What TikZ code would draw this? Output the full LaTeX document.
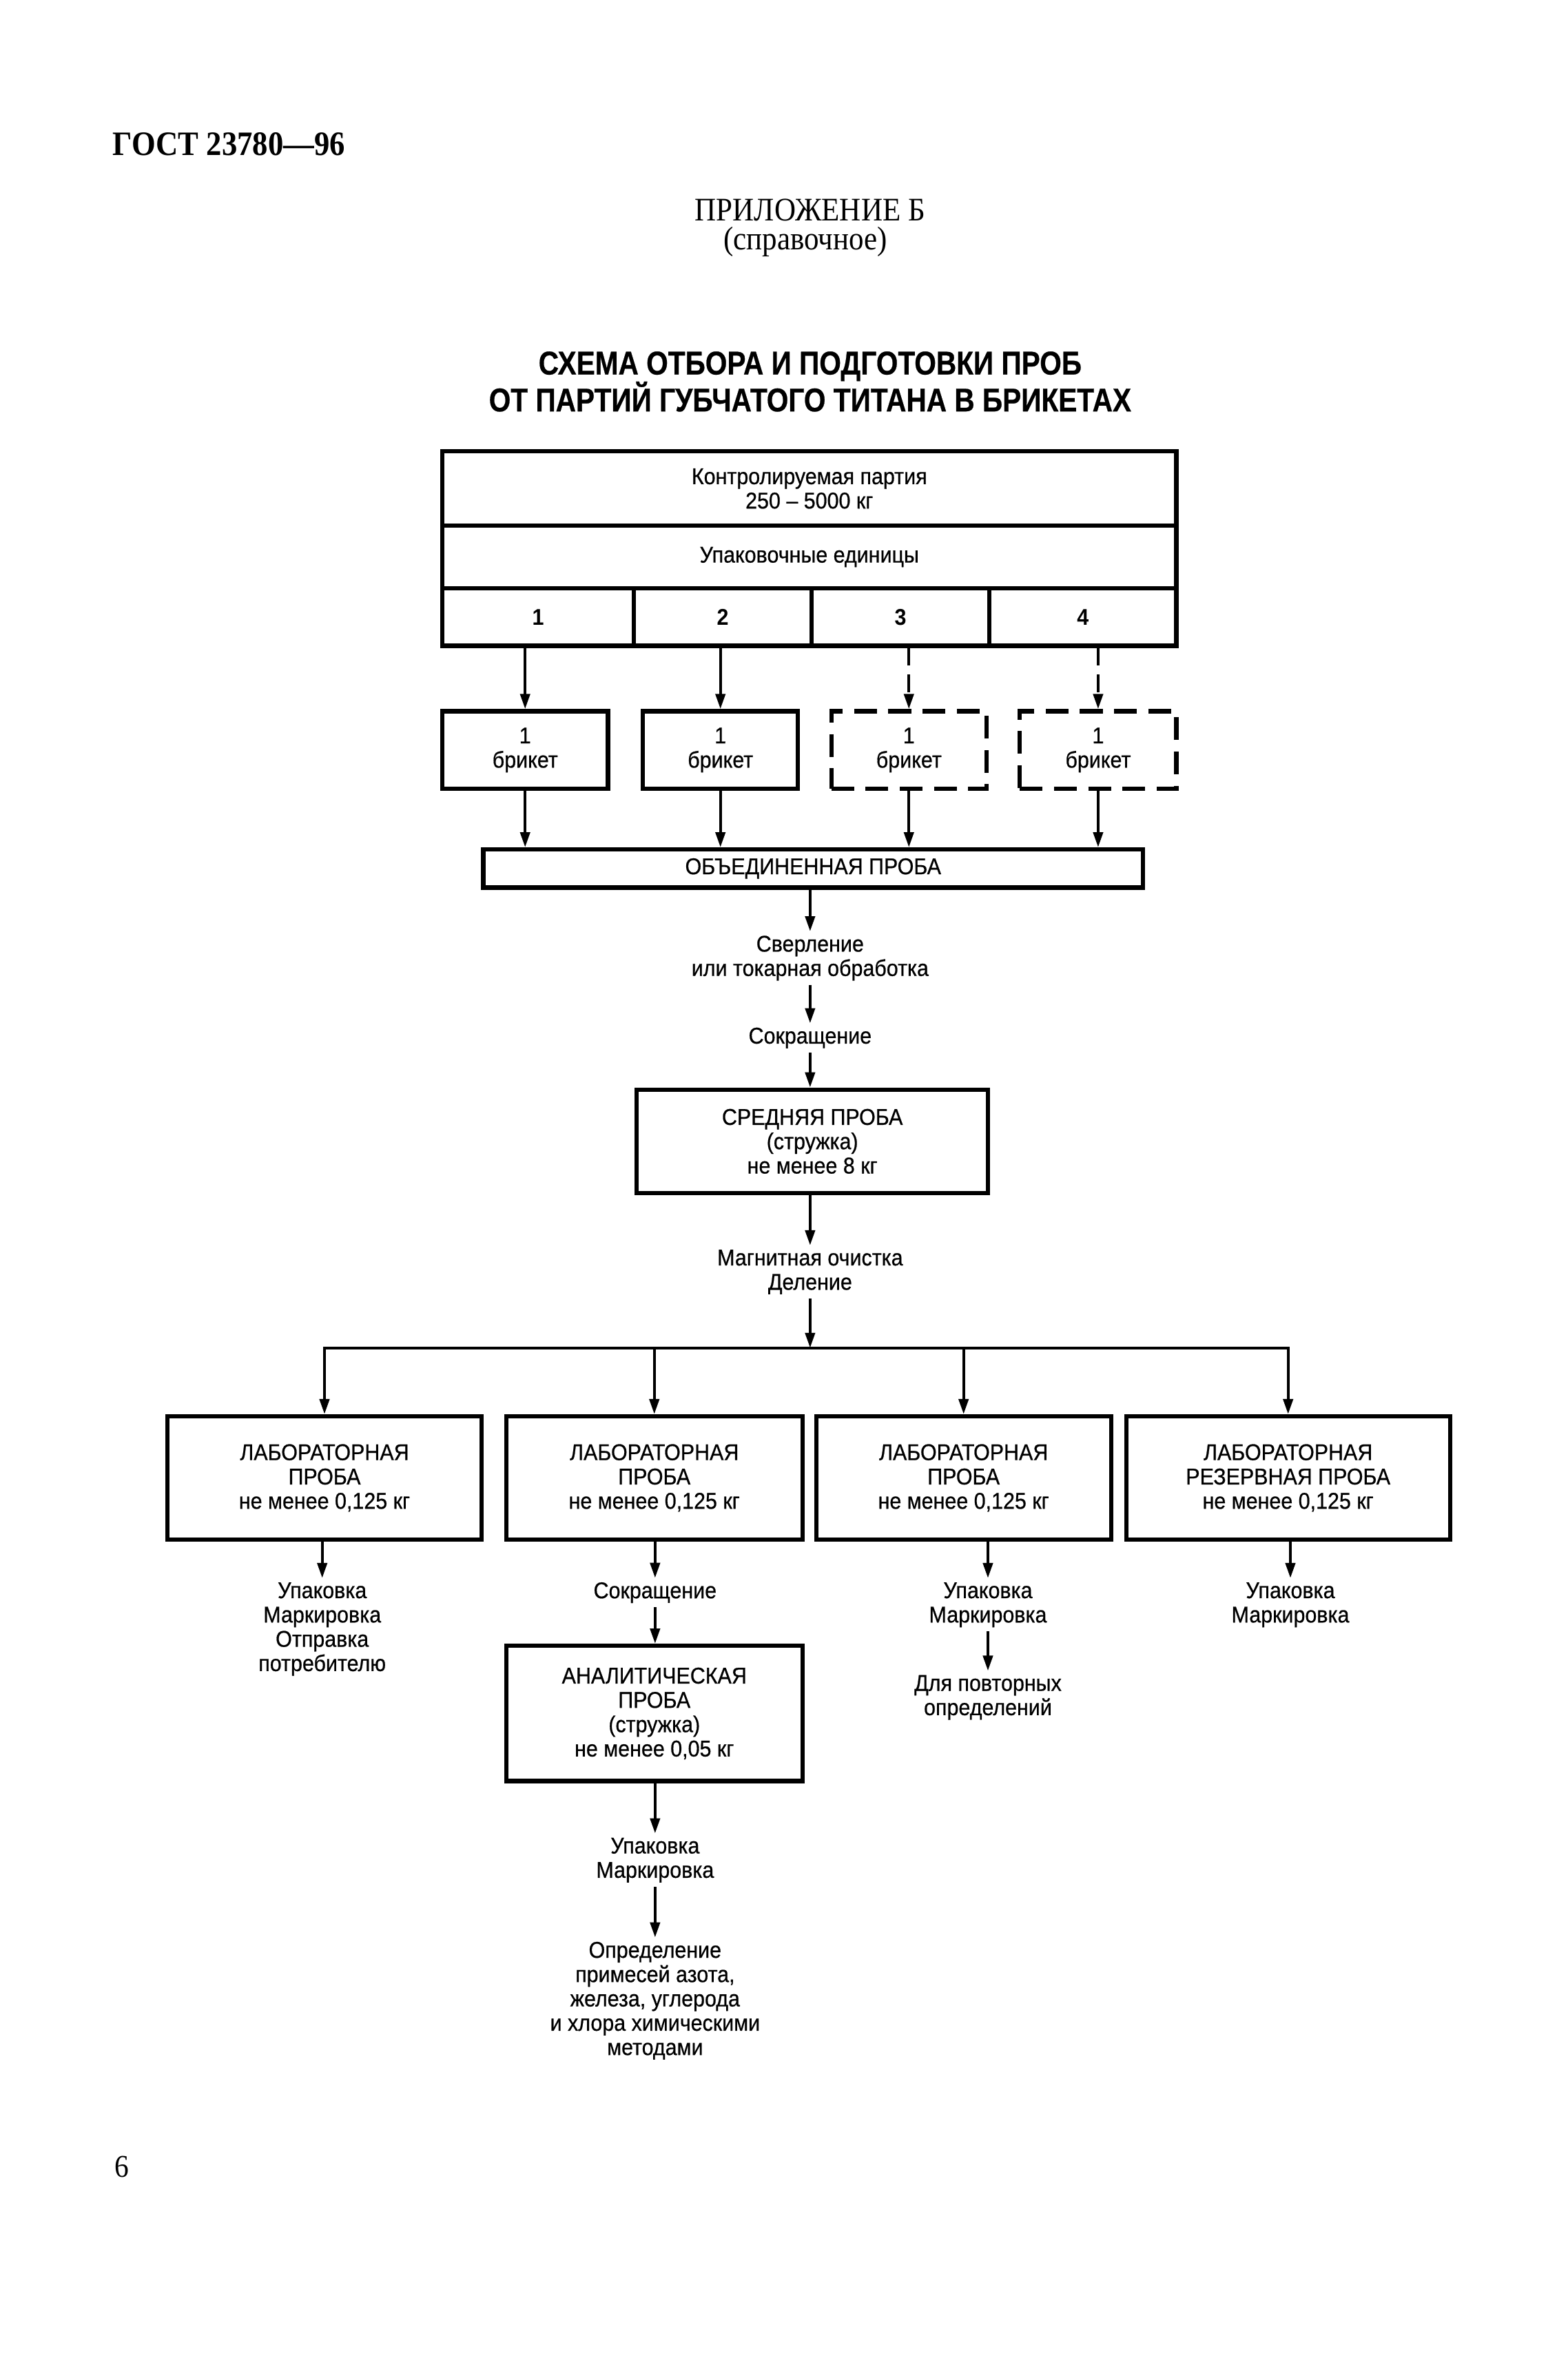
\documentclass[tikz,border=0pt]{standalone}
\usepackage{fontspec}
\setmainfont{Liberation Serif}
\newfontfamily\nar[FakeStretch=0.92,FakeBold=0.6]{Liberation Sans}
\newfontfamily\narb[FakeStretch=0.92]{Liberation Sans Bold}
\newfontfamily\ttlfont[FakeStretch=0.85,FakeBold=0.5]{Liberation Sans Bold}
\newfontfamily\sern[FakeStretch=0.9]{Liberation Serif}
\usetikzlibrary{arrows.meta}
\begin{document}
\begin{tikzpicture}[x=0.6pt,y=-0.6pt,
  bx/.style={draw, line width=1.7pt, inner sep=0pt, align=center, font=\nar\fontsize{9}{9.6}\selectfont},
  dbx/.style={bx, dash pattern=on 9pt off 4.5pt},
  wh/.style 2 args={minimum width=#1*0.6pt, minimum height=#2*0.6pt},
  lbl/.style={inner sep=1.5pt, align=center, font=\nar\fontsize{9}{9.6}\selectfont},
  arr/.style={line width=1.15pt, -{Triangle[length=6pt,width=3.8pt]}},
  darr/.style={arr, dash pattern=on 7pt off 3.5pt},
  busline/.style={line width=1.15pt, line cap=rect},
  ser/.style={inner sep=0pt, font=\sern\fontsize{13}{13}\selectfont},
  ttl/.style={inner sep=0pt, font=\ttlfont\fontsize{13}{13}\selectfont},
  num/.style={font=\narb\fontsize{9}{9.6}\selectfont}
]
\useasboundingbox (0,0) rectangle (1024,1566.1);

% header
\node[anchor=west, inner sep=0pt, font=\sern\bfseries\fontsize{13.5}{13.5}\selectfont] (gost) at (74,95) {ГОСТ 23780—96};
\node[ser] (app) at (533,138) {ПРИЛОЖЕНИЕ Б};
\node[ser] (ref) at (530,159) {(справочное)};
\node[ttl] (t1) at (533,241) {СХЕМА ОТБОРА И ПОДГОТОВКИ ПРОБ};
\node[ttl] (t2) at (533,261) {ОТ ПАРТИЙ ГУБЧАТОГО ТИТАНА В БРИКЕТАХ};

% top block
\node[bx, wh={483}{49}] (lot) at (532.5,321.5) {Контролируемая партия\\250 – 5000 кг};
\node[bx, wh={483}{41}] (units) at (532.5,366.5) {Упаковочные единицы};
\node[bx, num, wh={126}{38}] (c1) at (354,406) {1};
\node[bx, num, wh={117}{38}] (c2) at (475.5,406) {2};
\node[bx, num, wh={117}{38}] (c3) at (592.5,406) {3};
\node[bx, num, wh={123}{38}] (c4) at (712.5,406) {4};

% bricks
\node[bx, wh={109}{51}] (b1) at (345.5,493.5) {1\\брикет};
\node[bx, wh={102}{51}] (b2) at (474,493.5) {1\\брикет};
\node[dbx, wh={102}{51}] (b3) at (598,493.5) {1\\брикет};
\node[dbx, wh={103}{51}] (b4) at (722.5,493.5) {1\\брикет};

\node[bx, wh={434}{25}] (comb) at (535,571.5) {ОБЪЕДИНЕННАЯ ПРОБА};

% central column
\node[lbl] (drill) at (533,630.5) {Сверление\\или токарная обработка};
\node[lbl] (red1) at (533,683) {Сокращение};
\node[bx, wh={231}{68}] (avg) at (534.5,751) {СРЕДНЯЯ ПРОБА\\(стружка)\\не менее 8 кг};
\node[lbl] (mag) at (533,837) {Магнитная очистка\\Деление};
\coordinate (bus) at (533,887);

% laboratory samples
\node[bx, wh={207}{81}] (lA) at (213.5,972.5) {ЛАБОРАТОРНАЯ\\ПРОБА\\не менее 0,125 кг};
\node[bx, wh={195}{81}] (lB) at (430.5,972.5) {ЛАБОРАТОРНАЯ\\ПРОБА\\не менее 0,125 кг};
\node[bx, wh={194}{81}] (lC) at (634,972.5) {ЛАБОРАТОРНАЯ\\ПРОБА\\не менее 0,125 кг};
\node[bx, wh={213}{81}] (lD) at (847.5,972.5) {ЛАБОРАТОРНАЯ\\РЕЗЕРВНАЯ ПРОБА\\не менее 0,125 кг};

% below
\node[lbl] (sA) at (212,1072) {Упаковка\\Маркировка\\Отправка\\потребителю};
\node[lbl] (sB) at (431,1048) {Сокращение};
\node[bx, wh={195}{89}] (an) at (430.5,1127.5) {АНАЛИТИЧЕСКАЯ\\ПРОБА\\(стружка)\\не менее 0,05 кг};
\node[lbl] (pB) at (431,1224) {Упаковка\\Маркировка};
\node[lbl] (dB) at (431,1316.5) {Определение\\примесей азота,\\железа, углерода\\и хлора химическими\\методами};
\node[lbl] (pC) at (650,1056) {Упаковка\\Маркировка};
\node[lbl] (rC) at (650,1117) {Для повторных\\определений};
\node[lbl] (pD) at (849,1056) {Упаковка\\Маркировка};

\node[inner sep=0pt, font=\sern\fontsize{12.5}{12.5}\selectfont] (pg) at (80,1426) {6};

% connectors
\draw[arr] (c1.south -| b1.north) -- (b1.north);
\draw[arr] (c2.south -| b2.north) -- (b2.north);
\draw[darr] (c3.south -| b3.north) -- (b3.north);
\draw[darr] (c4.south -| b4.north) -- (b4.north);
\foreach \b in {b1,b2,b3,b4}{
  \draw[arr] (\b.south) -- (\b.south |- comb.north);
}
\draw[arr] (drill.north |- comb.south) -- (drill.north);
\draw[arr] (drill.south) -- (red1.north);
\draw[arr] (red1.south) -- (avg.north -| red1.south);
\draw[arr] (mag.north |- avg.south) -- (mag.north);
\draw[arr] (mag.south) -- (bus);
\draw[busline] (lA.north |- bus) -- (lD.north |- bus);
\foreach \l in {lA,lB,lC,lD}{
  \draw[arr] (\l.north |- bus) -- (\l.north);
}
\draw[arr] (sA.north |- lA.south) -- (sA.north);
\draw[arr] (sB.north |- lB.south) -- (sB.north);
\draw[arr] (sB.south) -- (an.north -| sB.south);
\draw[arr] (pB.north |- an.south) -- (pB.north);
\draw[arr] (pB.south) -- (dB.north);
\draw[arr] (pC.north |- lC.south) -- (pC.north);
\draw[arr] (pC.south) -- (rC.north);
\draw[arr] (pD.north |- lD.south) -- (pD.north);
\end{tikzpicture}
\end{document}
